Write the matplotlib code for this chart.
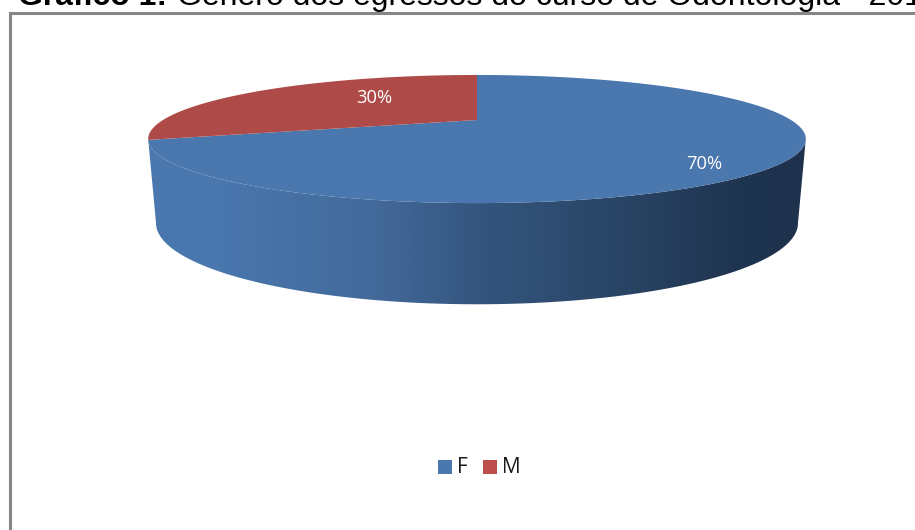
import matplotlib
matplotlib.use('Agg')
import matplotlib.pyplot as plt
import numpy as np
from matplotlib.colors import LinearSegmentedColormap
from matplotlib.patches import Polygon, Rectangle

# Chart data
categories = ['F', 'M']
shares = [70, 30]
share_labels = ['70%', '30%']

BLUE = '#4977AE'
RED = '#AE4B48'
colors = [BLUE, RED]

W, H = 915, 530
fig = plt.figure(figsize = (W/100, H/100), dpi = 100)
ax = fig.add_axes([0, 0, 1, 1])
ax.set_xlim(0, W)
ax.set_ylim(H, 0)
ax.axis('off')

# Perspective of the disc: the far side of the circle is squeezed
K = -0.297

def project(theta, cy, a, b):
	x, y = np.sin(theta), np.cos(theta)
	d = 1 - K*y
	return 477 + a*x/d, cy - b*y/d

def top_disc(theta):
	return project(theta, 120, 314, 58.4)

def bottom_disc(theta):
	return project(theta, 199, 306.5, 74)

# Side wall, shaded from left to right
front = np.linspace(np.radians(90), np.radians(270), 400)
# Visible edges run between the widest points of each ellipse
tx, ty = top_disc(front)
bx, by = bottom_disc(front)
keep_t = np.arange(np.argmax(tx), np.argmin(tx) + 1)
keep_b = np.arange(np.argmax(bx), np.argmin(bx) + 1)
wall = np.concatenate([
	np.column_stack([tx[keep_t], ty[keep_t]]),
	np.column_stack([bx[keep_b][::-1], by[keep_b][::-1]]),
])
shade = LinearSegmentedColormap.from_list('wall', [
	(0.0, '#4977AE'), (0.10, '#4977AE'), (0.35, '#43699A'),
	(0.50, '#34567F'), (0.70, '#2A4667'), (0.90, '#1F3450'), (1.0, '#1E324D'),
])
grad = np.linspace(0, 1, 512).reshape(1, -1)
im = ax.imshow(grad, cmap = shade, extent = (148, 806, 310, 130), aspect = 'auto', zorder = 1)
im.set_clip_path(Polygon(wall, closed = True, transform = ax.transData))
ax.set_xlim(0, W)
ax.set_ylim(H, 0)

# Top face: slices run clockwise from twelve o'clock
edges = np.cumsum([0] + shares)/np.sum(shares)*2*np.pi
for i in range(len(shares)):
	th = np.linspace(edges[i], edges[i+1], 300)
	x, y = top_disc(th)
	ax.fill(np.r_[477, x], np.r_[120, y], color = colors[i], lw = 0, zorder = 2)

ax.text(704, 164, share_labels[0], color = 'white', fontsize = 13.2, family = 'Open Sans', ha = 'center', va = 'center', zorder = 3)
ax.text(374, 98, share_labels[1], color = 'white', fontsize = 13.2, family = 'Open Sans', ha = 'center', va = 'center', zorder = 3)

# Frame, only the top and left sides are in view
ax.plot([10, 10, W], [H, 12.5, 12.5], color = '#868686', lw = 2.2, solid_joinstyle = 'miter', zorder = 4)

# Title runs past the top and right borders
ax.text(18, 5, 'Gráfico 1:', fontsize = 23, family = 'Liberation Sans', fontweight = 'bold', ha = 'left', va = 'baseline', clip_on = False)
ax.text(177, 5, 'Gênero dos egressos do curso de Odontologia - 2014', fontsize = 23, family = 'Liberation Sans', ha = 'left', va = 'baseline', clip_on = False)

# Legend
ax.add_patch(Rectangle((438, 460), 14, 14, color = BLUE, lw = 0))
ax.text(457, 467.5, categories[0], fontsize = 15, family = 'Open Sans', color = '#1A1A1A', ha = 'left', va = 'center')
ax.add_patch(Rectangle((483, 460), 14, 14, color = '#BC4F4C', lw = 0))
ax.text(502, 467.5, categories[1], fontsize = 15, family = 'Open Sans', color = '#1A1A1A', ha = 'left', va = 'center')

fig.savefig('out.png', dpi = 100, facecolor = 'white')
